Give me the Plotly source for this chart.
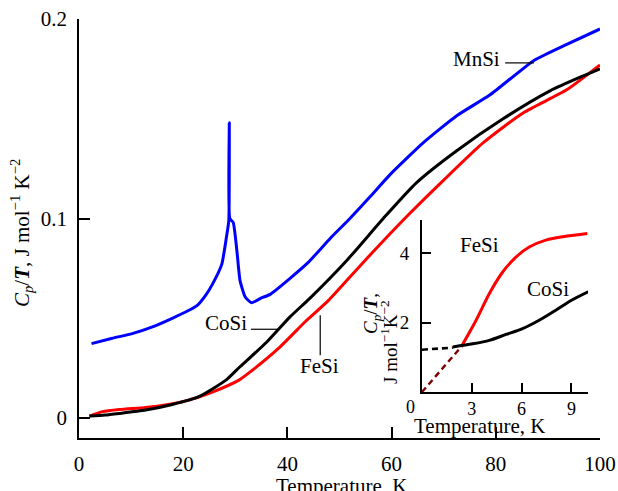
import plotly.graph_objects as go

# Specific heat Cp/T of B20 monosilicides, main panel (J mol^-1 K^-2 vs K)
mnsi_T = [2.4, 6.4, 10.2, 14.1, 17.9, 21.1, 22.7, 24.3, 25.6, 27.4, 28.3, 28.75,
          28.85, 28.95, 29.6, 30.3, 30.9, 31.9, 33.1, 35.1, 36.7, 40.5, 44.0, 48.2,
          52.0, 55.9, 59.7, 66.1, 72.5, 78.9, 87.2, 93.0, 100.0]
mnsi_C = [0.0373, 0.0400, 0.0423, 0.0457, 0.0500, 0.0540, 0.0565, 0.0615, 0.0670,
          0.0770, 0.0907, 0.0990, 0.1480, 0.1000, 0.0980, 0.0840, 0.0690, 0.0607,
          0.0578, 0.0603, 0.0620, 0.0700, 0.0780, 0.0900, 0.1000, 0.1110, 0.1220,
          0.1380, 0.1515, 0.1620, 0.1790, 0.1865, 0.1950]

cosi_T = [2.0, 5.0, 7.7, 12.8, 17.9, 23.0, 28.2, 30.9, 36.0, 40.5, 44.3, 51.4,
          58.4, 64.8, 72.5, 81.4, 90.4, 96.8, 100.0]
cosi_C = [0.0010, 0.0015, 0.0023, 0.0040, 0.0068, 0.0107, 0.0190, 0.0257, 0.0380,
          0.0507, 0.0600, 0.0790, 0.1000, 0.1180, 0.1340, 0.1500, 0.1640, 0.1715,
          0.1750]

fesi_T = [2.0, 4.5, 7.7, 12.8, 16.6, 21.1, 25.6, 30.7, 32.8, 38.6, 43.7, 47.9,
          54.9, 62.9, 69.9, 77.6, 85.3, 93.6, 100.0]
fesi_C = [0.0010, 0.0032, 0.0043, 0.0053, 0.0065, 0.0090, 0.0130, 0.0190, 0.0230,
          0.0357, 0.0490, 0.0590, 0.0790, 0.1010, 0.1190, 0.1380, 0.1530, 0.1645,
          0.1770]

# Inset: low-temperature Cp/T (mJ mol^-1 K^-2 scale)
fesi_low_T = [2.36, 3.26, 4.06, 4.86, 5.66, 6.46, 7.46, 8.66, 9.96]
fesi_low_C = [1.30, 2.07, 2.84, 3.46, 3.89, 4.18, 4.38, 4.49, 4.57]
fesi_extrap_T = [0.0, 2.36]
fesi_extrap_C = [0.0, 1.30]

cosi_low_T = [1.86, 3.06, 4.06, 5.06, 6.06, 7.06, 8.06, 9.06, 10.4]
cosi_low_C = [1.30, 1.39, 1.49, 1.66, 1.83, 2.07, 2.36, 2.66, 2.98]
cosi_extrap_T = [0.0, 1.86]
cosi_extrap_C = [1.22, 1.28]

main_xticks = [0, 20, 40, 60, 80, 100]
main_yticks = [0, 0.1, 0.2]
main_ytext = ["0", "0.1", "0.2"]
inset_xticks = [3, 6, 9]
inset_yticks = [2, 4]

SERIF = "Liberation Serif, Times New Roman, Times, serif"
BLUE = "#0000ff"
RED = "#ff0000"
BLACK = "#000000"
DARKRED = "#800000"
LW = 3.0

fig = go.Figure()

fig.add_trace(go.Scatter(x=mnsi_T, y=mnsi_C, mode="lines",
                         line=dict(color=BLUE, width=LW, shape="spline", smoothing=0.5),
                         xaxis="x", yaxis="y"))
fig.add_trace(go.Scatter(x=fesi_T, y=fesi_C, mode="lines",
                         line=dict(color=RED, width=LW, shape="spline", smoothing=0.6),
                         xaxis="x", yaxis="y"))
fig.add_trace(go.Scatter(x=cosi_T, y=cosi_C, mode="lines",
                         line=dict(color=BLACK, width=LW, shape="spline", smoothing=0.6),
                         xaxis="x", yaxis="y"))

fig.add_trace(go.Scatter(x=fesi_extrap_T, y=fesi_extrap_C, mode="lines",
                         line=dict(color=DARKRED, width=2.4, dash="6px,4px"),
                         xaxis="x2", yaxis="y2"))
fig.add_trace(go.Scatter(x=cosi_extrap_T, y=cosi_extrap_C, mode="lines",
                         line=dict(color=BLACK, width=2.6, dash="6px,4px"),
                         xaxis="x2", yaxis="y2"))
fig.add_trace(go.Scatter(x=fesi_low_T, y=fesi_low_C, mode="lines",
                         line=dict(color=RED, width=LW, shape="spline", smoothing=0.8),
                         xaxis="x2", yaxis="y2"))
fig.add_trace(go.Scatter(x=cosi_low_T, y=cosi_low_C, mode="lines",
                         line=dict(color=BLACK, width=LW, shape="spline", smoothing=0.8),
                         xaxis="x2", yaxis="y2"))

axis_common = dict(showgrid=False, zeroline=False, showline=True, linecolor="black",
                   linewidth=1.6, ticks="inside", tickcolor="black", tickwidth=1.6,
                   fixedrange=True, automargin=False)

fig.update_layout(
    width=618, height=491,
    margin=dict(l=79, r=18, t=19, b=53, autoexpand=False),
    paper_bgcolor="white", plot_bgcolor="white",
    showlegend=False,
    font=dict(family=SERIF, color="black"),
    xaxis=dict(domain=[0, 1], range=[0, 100], tickvals=main_xticks, ticklen=11,
               ticklabelstandoff=6, anchor="y",
               tickfont=dict(family=SERIF, size=21, color="black"), **axis_common),
    yaxis=dict(domain=[0, 1], range=[-0.01, 0.2], tickvals=main_yticks, ticktext=main_ytext,
               ticklen=11, ticklabelstandoff=6, anchor="x",
               tickfont=dict(family=SERIF, size=21, color="black"), **axis_common),
    xaxis2=dict(domain=[0.6583, 0.9770], range=[0, 10], tickvals=inset_xticks, ticklen=9,
                ticklabelstandoff=0, anchor="y2",
                tickfont=dict(family=SERIF, size=18, color="black"), **axis_common),
    yaxis2=dict(domain=[0.1098, 0.5203], range=[0, 4.96], tickvals=inset_yticks, ticklen=9,
                ticklabelstandoff=7, anchor="x2",
                tickfont=dict(family=SERIF, size=19, color="black"), **axis_common),
)

def px_x(p):
    return (p - 79) / 521

def px_y(p):
    return (438 - p) / 419

annots = [
    # main axis titles
    dict(text="<i>C<sub>p</sub></i>/<b><i>T</i></b>, J mol<sup>\u22121</sup> K<sup>\u22122</sup>",
         x=px_x(22), y=px_y(233), textangle=-90, font=dict(size=21)),
    dict(text="Temperature, K", x=px_x(341), y=px_y(486), font=dict(size=21)),
    # main curve labels
    dict(text="MnSi", x=76.3, y=0.180, xref="x", yref="y", font=dict(size=21)),
    dict(text="CoSi", x=28.2, y=0.0475, xref="x", yref="y", font=dict(size=21)),
    dict(text="FeSi", x=46.1, y=0.026, xref="x", yref="y", font=dict(size=21)),
    # inset labels
    dict(text="FeSi", x=3.45, y=4.25, xref="x2", yref="y2", font=dict(size=21)),
    dict(text="CoSi", x=7.6, y=2.96, xref="x2", yref="y2", font=dict(size=21)),
    dict(text="0", x=px_x(410), y=px_y(407), font=dict(size=18)),
    dict(text="<i>C<sub>p</sub></i>/<b><i>T</i></b>,", x=px_x(372), y=px_y(314),
         textangle=-90, font=dict(size=19)),
    dict(text="J mol<sup>\u22121</sup>K<sup>\u22122</sup>", x=px_x(389), y=px_y(342),
         textangle=-90, font=dict(size=19)),
    dict(text="Temperature, K", x=px_x(479), y=px_y(426), font=dict(size=21)),
]
for a in annots:
    a.setdefault("xref", "paper")
    a.setdefault("yref", "paper")
    a.update(showarrow=False, xanchor="center", yanchor="middle")
    fig.add_annotation(**a)

# leader lines from labels to curves
leader = dict(color="black", width=1.2)
fig.add_shape(type="line", xref="x", yref="y", x0=81.8, x1=87.3, y0=0.178, y1=0.178, line=leader)
fig.add_shape(type="line", xref="x", yref="y", x0=33.0, x1=38.4, y0=0.0445, y1=0.0445, line=leader)
fig.add_shape(type="line", xref="x", yref="y", x0=46.3, x1=46.3, y0=0.0315, y1=0.0515, line=leader)

fig.write_html("out.html")
